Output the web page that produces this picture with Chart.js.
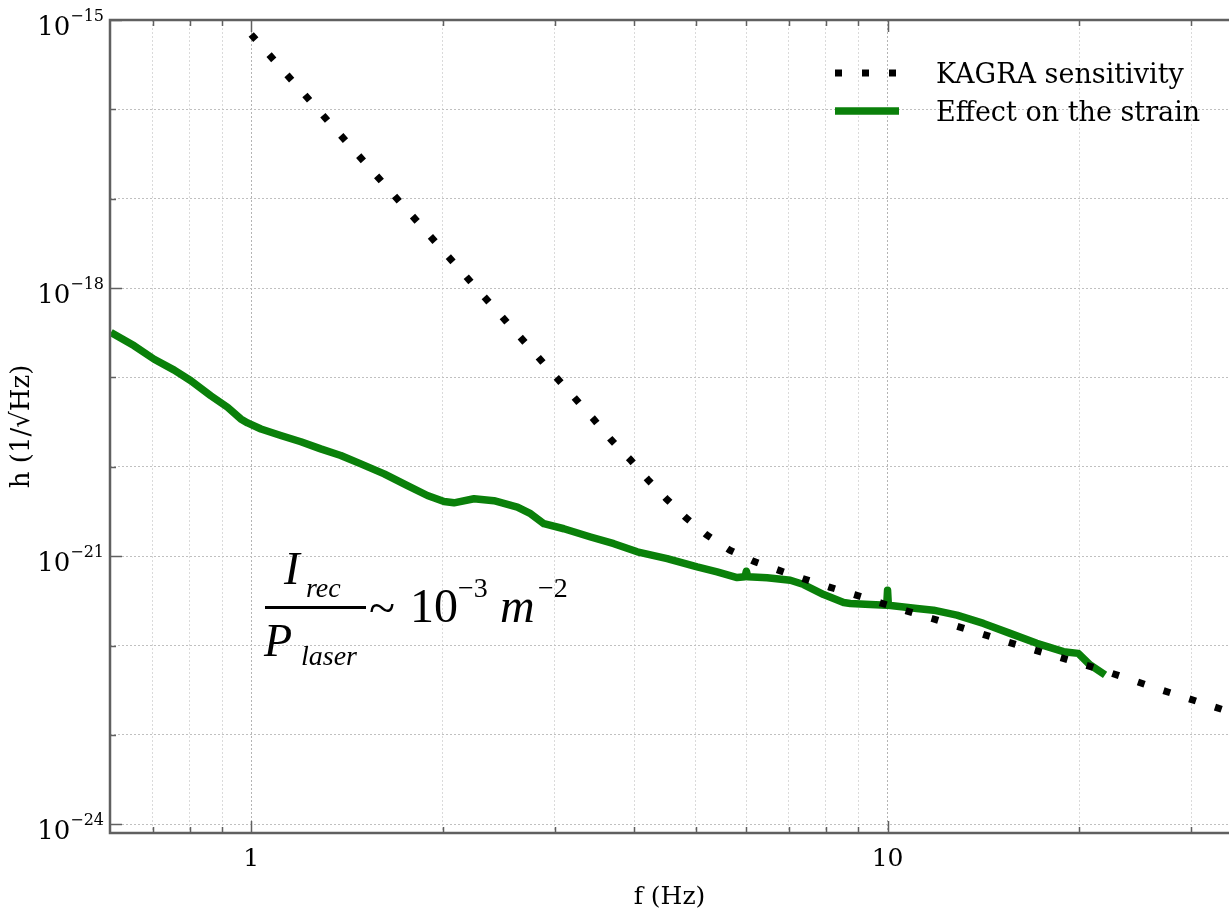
<!DOCTYPE html>
<html>
<head>
<meta charset="utf-8">
<script src="https://cdn.jsdelivr.net/npm/chart.js@4.4.1/dist/chart.umd.min.js"></script>
<style>
  html, body { margin: 0; padding: 0; background: #fff; }
  #wrap { width: 1229px; height: 914px; position: relative; }
</style>
</head>
<body>
<div id="wrap"><canvas id="strainChart"></canvas></div>
<script>
// KAGRA design sensitivity, f (Hz) vs h (1/sqrt(Hz))
const kagraFreq = [1, 2.19, 3.44, 3.68, 3.94, 4.2, 4.49, 4.82, 5.19, 5.65, 6.16, 6.77, 7.42, 8.1,
  8.87, 9.74, 10.7, 11.74, 12.85, 14.12, 15.49, 17.01, 18.67, 20.49, 22.51, 24.64, 26.97, 29.58, 32.49, 35];
const kagraStrain = [6.89e-16, 1.28e-18, 3.52e-20, 2.0e-20, 1.21e-20, 7.2e-21, 4.4e-21, 2.7e-21, 1.74e-21,
  1.17e-21, 8.77e-22, 6.9e-22, 5.52e-22, 4.52e-22, 3.72e-22, 3.01e-22, 2.45e-22, 2.01e-22, 1.65e-22,
  1.34e-22, 1.09e-22, 8.91e-23, 7.38e-23, 6.05e-23, 4.9e-23, 3.95e-23, 3.18e-23, 2.58e-23, 2.08e-23, 1.75e-23];

// strain noise coming from the recombined beam
const effectFreq = [0.602, 0.655, 0.704, 0.757, 0.804, 0.864, 0.918, 0.963, 0.987, 1.036, 1.113, 1.197,
  1.286, 1.383, 1.487, 1.618, 1.76, 1.892, 2.009, 2.083, 2.239, 2.407, 2.62, 2.748, 2.884, 3.1, 3.415,
  3.715, 4.043, 4.505, 5.021, 5.397, 5.802, 5.97, 6.0, 6.03, 6.468, 7.035, 7.382, 7.936, 8.53, 8.739,
  9.394, 9.97, 10.0, 10.03, 11.12, 11.81, 12.85, 14.15, 15.58, 17.16, 18.9, 19.94, 20.81, 21.97];
const effectStrain = [3.19e-19, 2.26e-19, 1.6e-19, 1.21e-19, 9.19e-20, 6.25e-20, 4.64e-20, 3.44e-20,
  3.1e-20, 2.65e-20, 2.24e-20, 1.91e-20, 1.59e-20, 1.34e-20, 1.08e-20, 8.35e-21, 6.18e-21, 4.78e-21,
  4.1e-21, 3.96e-21, 4.4e-21, 4.18e-21, 3.55e-21, 2.99e-21, 2.31e-21, 2.03e-21, 1.64e-21, 1.38e-21,
  1.12e-21, 9.4e-22, 7.6e-22, 6.68e-22, 5.77e-22, 5.9e-22, 6.79e-22, 5.9e-22, 5.73e-22, 5.38e-22,
  4.82e-22, 3.72e-22, 3.03e-22, 2.96e-22, 2.88e-22, 2.83e-22, 4.16e-22, 2.83e-22, 2.6e-22, 2.49e-22,
  2.19e-22, 1.77e-22, 1.37e-22, 1.06e-22, 8.55e-23, 8.18e-23, 6.07e-23, 4.69e-23];

// axis ticks
const xTickValues = [0.7, 0.8, 0.9, 1, 2, 3, 4, 5, 6, 7, 8, 9, 10, 20, 30];
const xTickLabels = [1, 10];
const yTickExps = [-24, -23, -22, -21, -20, -19, -18, -17, -16, -15];
const yLabelExps = [-24, -21, -18, -15];

const serif = 'DejaVu Serif';
const axisColor = '#606060';

const toPoints = (xs, ys) => xs.map((x, i) => ({ x: x, y: ys[i] }));

// inward tick marks and the box around the plot
const framePlugin = {
  id: 'frame',
  afterDraw(chart) {
    const { ctx, chartArea: a, scales } = chart;
    ctx.save();
    ctx.strokeStyle = axisColor;
    ctx.lineWidth = 1.5;
    xTickValues.forEach(v => {
      const px = Math.round(scales.x.getPixelForValue(v)) + 0.5;
      const len = xTickLabels.includes(v) ? 12 : 6;
      ctx.beginPath();
      ctx.moveTo(px, a.bottom); ctx.lineTo(px, a.bottom - len);
      ctx.moveTo(px, a.top); ctx.lineTo(px, a.top + len);
      ctx.stroke();
    });
    yTickExps.forEach(e => {
      const py = Math.round(scales.y.getPixelForValue(Math.pow(10, e))) + 0.5;
      const len = yLabelExps.includes(e) ? 12 : 6;
      ctx.beginPath();
      ctx.moveTo(a.left, py); ctx.lineTo(a.left + len, py);
      ctx.stroke();
    });
    ctx.lineWidth = 2.5;
    ctx.beginPath();
    ctx.moveTo(a.right + 2, a.top);
    ctx.lineTo(a.left, a.top);
    ctx.lineTo(a.left, a.bottom);
    ctx.lineTo(a.right + 2, a.bottom);
    ctx.stroke();

    // y labels as powers of ten
    ctx.fillStyle = '#000';
    ctx.textAlign = 'right';
    ctx.textBaseline = 'alphabetic';
    const right = a.left - 6;
    yLabelExps.forEach(e => {
      const py = scales.y.getPixelForValue(Math.pow(10, e));
      const sup = '\u2212' + Math.abs(e);
      ctx.font = '16px "' + serif + '"';
      const w = ctx.measureText(sup).width;
      ctx.fillText(sup, right, py + 1);
      ctx.font = '26px "' + serif + '"';
      ctx.fillText('10', right - w, py + 15);
    });
    ctx.restore();
  }
};

// legend in the upper right corner
const legendPlugin = {
  id: 'cornerLegend',
  afterDraw(chart) {
    const { ctx } = chart;
    ctx.save();
    chart.data.datasets.forEach((ds, i) => {
      const y = 73 + i * 38;
      ctx.strokeStyle = ds.borderColor;
      ctx.lineWidth = ds.borderWidth;
      ctx.lineCap = 'butt';
      ctx.setLineDash(ds.borderDash || []);
      ctx.beginPath();
      ctx.moveTo(835, y);
      ctx.lineTo(899, y);
      ctx.stroke();
      ctx.setLineDash([]);
      ctx.fillStyle = '#000';
      ctx.font = '27px "' + serif + '"';
      ctx.textAlign = 'left';
      ctx.textBaseline = 'alphabetic';
      ctx.fillText(ds.label, 936, y + 10);
    });
    ctx.restore();
  }
};

// I_rec / P_laser ~ 10^-3 m^-2
const formulaPlugin = {
  id: 'formula',
  afterDraw(chart) {
    const { ctx } = chart;
    const lib = '"Liberation Serif"';
    ctx.save();
    ctx.fillStyle = '#000';
    ctx.textAlign = 'left';
    ctx.textBaseline = 'alphabetic';
    ctx.font = 'italic 47px ' + lib;
    ctx.fillText('I', 284, 584);
    ctx.font = 'italic 28px ' + lib;
    ctx.fillText('rec', 306, 597);
    ctx.fillRect(265, 606, 101, 3);
    ctx.font = 'italic 46px ' + lib;
    ctx.fillText('P', 264, 656);
    ctx.font = 'italic 28px ' + lib;
    ctx.fillText('laser', 301, 665);
    ctx.font = '48px ' + lib;
    ctx.fillText('~', 369, 624);
    ctx.fillText('10', 410, 622);
    ctx.font = '28px ' + lib;
    ctx.fillText('\u22123', 458, 597);
    ctx.font = 'italic 48px ' + lib;
    ctx.fillText('m', 500, 622);
    ctx.font = '28px ' + lib;
    ctx.fillText('\u22122', 538, 597);
    ctx.restore();
  }
};

Chart.defaults.font.family = serif;
Chart.defaults.color = '#000';

new Chart(document.getElementById('strainChart').getContext('2d'), {
  type: 'line',
  data: {
    datasets: [
      {
        label: 'KAGRA sensitivity',
        data: toPoints(kagraFreq, kagraStrain),
        borderColor: '#000000',
        borderWidth: 7,
        borderDash: [7, 20],
        borderCapStyle: 'butt',
        pointRadius: 0,
        fill: false,
        tension: 0,
      },
      {
        label: 'Effect on the strain',
        data: toPoints(effectFreq, effectStrain),
        borderColor: '#0a800a',
        borderWidth: 7.5,
        borderJoinStyle: 'round',
        pointRadius: 0,
        fill: false,
        tension: 0,
      },
    ],
  },
  options: {
    responsive: true,
    maintainAspectRatio: false,
    animation: false,
    layout: { padding: { top: 20, right: 0, left: 0, bottom: 0 } },
    plugins: {
      legend: { display: false },
      tooltip: { enabled: false },
    },
    scales: {
      x: {
        type: 'logarithmic',
        min: 0.6,
        max: 34.4,
        afterBuildTicks: scale => {
          scale.ticks = xTickValues.map(v => ({ value: v }));
        },
        afterFit: scale => { scale.height = 81; },
        grid: {
          drawTicks: false,
          lineWidth: 1,
          color: ctx => (ctx.tick && xTickLabels.includes(ctx.tick.value)) ? '#b4b4b4' : '#dadada',
        },
        border: { display: false, dash: [2, 2] },
        ticks: {
          autoSkip: false,
          maxRotation: 0,
          padding: 11,
          font: { family: serif, size: 25 },
          callback: value => xTickLabels.includes(value) ? String(value) : '',
        },
        title: {
          display: true,
          text: 'f (Hz)',
          font: { family: serif, size: 25 },
          padding: { top: 0, bottom: 2 },
        },
      },
      y: {
        type: 'logarithmic',
        min: 8.44e-25,
        max: 1e-15,
        afterBuildTicks: scale => {
          scale.ticks = yTickExps.map(e => ({ value: Math.pow(10, e) }));
        },
        afterFit: scale => { scale.width = 110; },
        grid: {
          drawTicks: false,
          lineWidth: 1,
          color: '#c0c0c0',
        },
        border: { display: false, dash: [2, 2] },
        ticks: { display: false },
        title: {
          display: true,
          text: 'h (1/\u221AHz)',
          font: { family: serif, size: 26 },
          padding: { top: 7, bottom: 0 },
        },
      },
    },
  },
  plugins: [framePlugin, legendPlugin, formulaPlugin],
});
</script>
</body>
</html>
